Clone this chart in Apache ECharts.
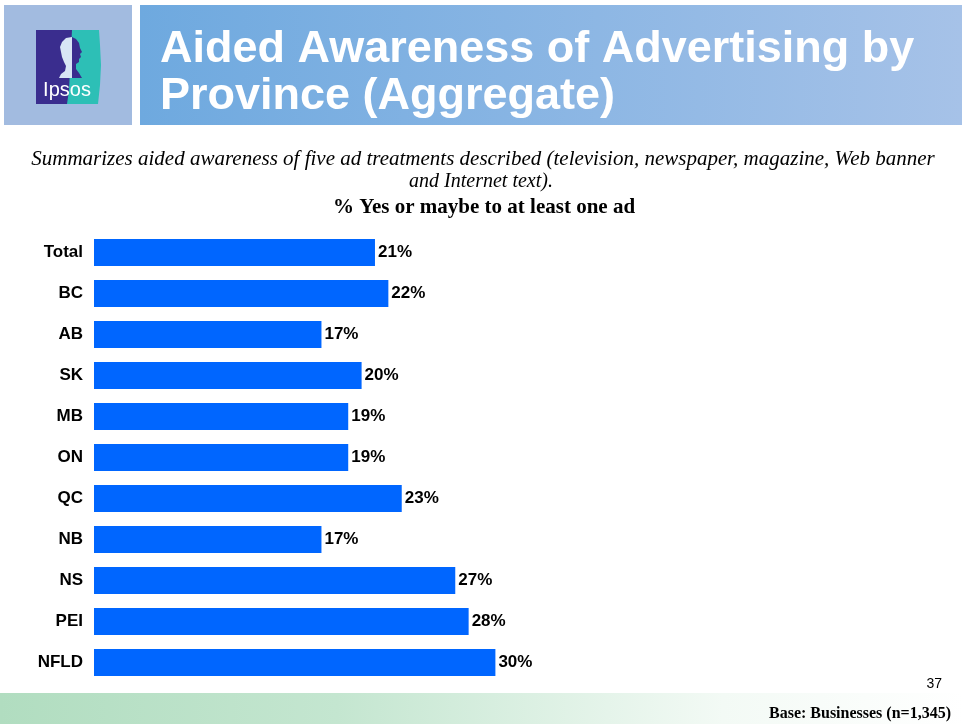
<!DOCTYPE html>
<html>
<head>
<meta charset="utf-8">
<script src="https://cdn.jsdelivr.net/npm/echarts@6/dist/echarts.min.js"></script>
<style>
  html, body { margin: 0; padding: 0; background: #ffffff; }
  #chart { width: 964px; height: 724px; }
</style>
</head>
<body>
<div id="chart"></div>
<script>
// Province labels, top to bottom
const provinces = ['Total', 'BC', 'AB', 'SK', 'MB', 'ON', 'QC', 'NB', 'NS', 'PEI', 'NFLD'];
// Share answering yes or maybe to at least one ad (%)
const awareness = [21, 22, 17, 20, 19, 19, 23, 17, 27, 28, 30];

const titleLines = ['Aided Awareness of Advertising by', 'Province (Aggregate)'];
const subtitleLines = [
  'Summarizes aided awareness of five ad treatments described (television, newspaper, magazine, Web banner',
  'and Internet text).'
];
const measureLabel = '% Yes or maybe to at least one ad';
const pageNumber = '37';
const baseNote = 'Base: Businesses (n=1,345)';

const chart = echarts.init(document.getElementById('chart'), null, { renderer: 'canvas' });

const serif = '"Liberation Serif", "Times New Roman", serif';
const sans = '"Liberation Sans", Arial, sans-serif';

chart.setOption({
  animation: false,
  backgroundColor: '#ffffff',
  grid: { left: 94, top: 232, width: 669, height: 451, containLabel: false },
  xAxis: {
    type: 'value', min: 0, max: 50,
    show: false
  },
  yAxis: {
    type: 'category',
    inverse: true,
    data: provinces,
    axisLine: { show: false },
    axisTick: { show: false },
    axisLabel: {
      margin: 11,
      color: '#000000',
      fontFamily: sans,
      fontWeight: 'bold',
      fontSize: 17
    }
  },
  series: [{
    type: 'bar',
    data: awareness,
    barCategoryGap: '34%',
    itemStyle: { color: '#0066FF' },
    label: {
      show: true,
      position: 'right',
      distance: 3,
      formatter: p => p.value + '%',
      color: '#000000',
      fontFamily: sans,
      fontWeight: 'bold',
      fontSize: 17
    }
  }],
  graphic: [
    // logo panel
    { type: 'rect', shape: { x: 4, y: 5, width: 128, height: 120 }, style: { fill: '#A2BBE0' }, silent: true },
    // title panel
    {
      type: 'rect', shape: { x: 140, y: 5, width: 822, height: 120 }, silent: true,
      style: {
        fill: new echarts.graphic.LinearGradient(0, 0, 1, 0, [
          { offset: 0, color: '#6EA9DF' },
          { offset: 1, color: '#A6C2E8' }
        ])
      }
    },
    // Ipsos mark: navy half
    { type: 'rect', shape: { x: 36, y: 30, width: 36, height: 74 }, style: { fill: '#3A2D8E' }, silent: true },
    // Ipsos mark: teal half with curved edge
    {
      type: 'polygon', silent: true,
      shape: { points: [[72, 30], [99, 30], [100, 45], [101, 65], [100, 85], [98, 104], [67, 104], [69, 90], [70, 70], [71, 50]] },
      style: { fill: '#2DBFB6' }
    },
    // back of the head, pale on the navy side
    {
      type: 'polygon', silent: true,
      shape: { points: [[72, 37], [66, 38], [62, 42], [60, 47], [61, 52], [62, 57], [64, 62], [66, 66], [65, 71], [61, 74], [59, 78], [72, 78]] },
      style: { fill: '#D8E6F5' }
    },
    // face profile, navy on the teal side
    {
      type: 'polygon', silent: true,
      shape: { points: [[72, 37], [76, 39], [79, 43], [80, 48], [82, 52], [80, 54], [81, 57], [79, 59], [79, 62], [76, 64], [76, 69], [79, 73], [82, 78], [72, 78]] },
      style: { fill: '#3A2D8E' }
    },
    {
      type: 'text', silent: true,
      style: {
        x: 67, y: 90, text: 'Ipsos', fill: '#FFFFFF', align: 'center', verticalAlign: 'middle',
        font: '20px "Liberation Sans Narrow", "Liberation Sans", Arial, sans-serif'
      }
    },
    // heading
    {
      type: 'text', silent: true,
      style: { x: 160, y: 50, text: titleLines[0], fill: '#FFFFFF', verticalAlign: 'middle', font: 'bold 45px ' + sans }
    },
    {
      type: 'text', silent: true,
      style: { x: 160, y: 97, text: titleLines[1], fill: '#FFFFFF', verticalAlign: 'middle', font: 'bold 45px ' + sans }
    },
    // description
    {
      type: 'text', silent: true,
      style: { x: 483, y: 159, text: subtitleLines[0], fill: '#000000', align: 'center', verticalAlign: 'middle', font: 'italic 21px ' + serif }
    },
    {
      type: 'text', silent: true,
      style: { x: 481, y: 182, text: subtitleLines[1], fill: '#000000', align: 'center', verticalAlign: 'middle', font: 'italic 20px ' + serif }
    },
    {
      type: 'text', silent: true,
      style: { x: 484, y: 208, text: measureLabel, fill: '#000000', align: 'center', verticalAlign: 'middle', font: 'bold 21px ' + serif }
    },
    // page number
    {
      type: 'text', silent: true,
      style: { x: 942, y: 684, text: pageNumber, fill: '#000000', align: 'right', verticalAlign: 'middle', font: '14px ' + sans }
    },
    // footer band
    {
      type: 'rect', shape: { x: 0, y: 693, width: 964, height: 31 }, silent: true, z: -1,
      style: {
        fill: new echarts.graphic.LinearGradient(0, 0, 1, 0, [
          { offset: 0, color: '#B1DDC0' },
          { offset: 0.35, color: '#C4E6D0' },
          { offset: 0.75, color: '#F3FAF5' },
          { offset: 1, color: '#FFFFFF' }
        ])
      }
    },
    {
      type: 'text', silent: true,
      style: { x: 951, y: 714, text: baseNote, fill: '#000000', align: 'right', verticalAlign: 'middle', font: 'bold 16px ' + serif }
    }
  ]
});
</script>
</body>
</html>
